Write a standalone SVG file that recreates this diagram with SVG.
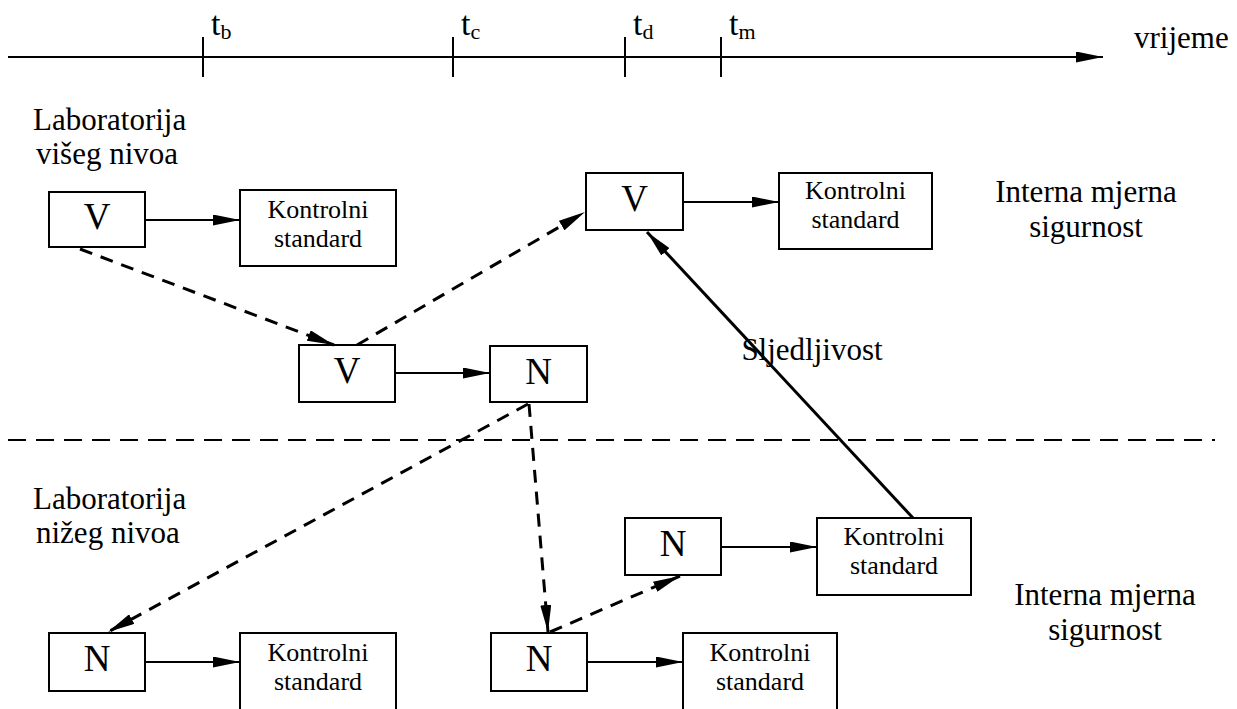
<svg xmlns="http://www.w3.org/2000/svg" width="1237" height="709" viewBox="0 0 1237 709" font-family="'Liberation Serif', 'Times New Roman', serif">
<style>
.box{fill:#fff;stroke:#000;stroke-width:2}
text{font-family:"Liberation Serif","Times New Roman",serif;fill:#000}
.big{font-size:31px}
.tl{font-size:34px}
.ltr{font-size:37px;text-anchor:middle}
.ks{font-size:26px;text-anchor:middle}
.mid{text-anchor:middle}
.c{stroke:#000;stroke-width:2;fill:none}
.d{stroke:#000;stroke-width:3;fill:none;stroke-dasharray:13 9}
</style>
<defs>
<marker id="ah" markerUnits="userSpaceOnUse" markerWidth="27" markerHeight="11" refX="27" refY="5.5" orient="auto">
<path d="M0,0 L27,5.5 L0,11 Z" fill="#000"/>
</marker>
</defs>
<rect width="1237" height="709" fill="#fff"/>
<g id="timeline">
<line x1="8" y1="57" x2="1103" y2="57" class="c" marker-end="url(#ah)"/>
<line x1="203" y1="37" x2="203" y2="77" class="c"/>
<line x1="453" y1="37" x2="453" y2="77" class="c"/>
<line x1="625" y1="37" x2="625" y2="77" class="c"/>
<line x1="721" y1="37" x2="721" y2="77" class="c"/>
<text x="211" y="35" class="tl">t<tspan font-size="22" dy="4">b</tspan></text>
<text x="461" y="35" class="tl">t<tspan font-size="22" dy="4">c</tspan></text>
<text x="633" y="35" class="tl">t<tspan font-size="22" dy="4">d</tspan></text>
<text x="729" y="35" class="tl">t<tspan font-size="22" dy="4">m</tspan></text>
<text x="1134" y="48" class="big">vrijeme</text>
</g>
<g id="labels">
<text x="33" y="130" class="big">Laboratorija</text>
<text x="36" y="164" class="big">višeg nivoa</text>
<text x="33" y="509" class="big">Laboratorija</text>
<text x="36" y="543" class="big">nižeg nivoa</text>
<text x="1086" y="202" class="big mid">Interna mjerna</text>
<text x="1086" y="237" class="big mid">sigurnost</text>
<text x="1105" y="605" class="big mid">Interna mjerna</text>
<text x="1105" y="640" class="big mid">sigurnost</text>
<text x="812" y="360" class="big mid">Sljedljivost</text>
</g>
<g id="separator">
<line x1="8" y1="440" x2="1215" y2="440" stroke="#000" stroke-width="2" stroke-dasharray="18 10"/>
</g>
<g id="node-V1">
<rect x="49" y="192" width="96" height="55" class="box"/>
<text x="97" y="229" class="ltr">V</text>
</g>
<g id="node-K1">
<rect x="240" y="190" width="156" height="76" class="box"/>
<text x="318" y="218" class="ks">Kontrolni</text>
<text x="318" y="247" class="ks">standard</text>
</g>
<g id="node-V2">
<rect x="586" y="173" width="97" height="57" class="box"/>
<text x="634.5" y="211" class="ltr">V</text>
</g>
<g id="node-K2">
<rect x="779" y="173" width="153" height="76" class="box"/>
<text x="855.5" y="199" class="ks">Kontrolni</text>
<text x="855.5" y="228" class="ks">standard</text>
</g>
<g id="node-V3">
<rect x="299" y="345" width="96" height="57" class="box"/>
<text x="347" y="383" class="ltr">V</text>
</g>
<g id="node-N1">
<rect x="490" y="346" width="97" height="56" class="box"/>
<text x="538.5" y="384" class="ltr">N</text>
</g>
<g id="node-N2">
<rect x="625" y="518" width="96" height="57" class="box"/>
<text x="673" y="556" class="ltr">N</text>
</g>
<g id="node-K3">
<rect x="817" y="518" width="154" height="77" class="box"/>
<text x="894" y="545" class="ks">Kontrolni</text>
<text x="894" y="574" class="ks">standard</text>
</g>
<g id="node-N3">
<rect x="49" y="633" width="96" height="58" class="box"/>
<text x="97" y="671" class="ltr">N</text>
</g>
<g id="node-K4">
<rect x="240" y="633" width="156" height="80" class="box"/>
<text x="318" y="661" class="ks">Kontrolni</text>
<text x="318" y="690" class="ks">standard</text>
</g>
<g id="node-N4">
<rect x="491" y="633" width="96" height="58" class="box"/>
<text x="539" y="671" class="ltr">N</text>
</g>
<g id="node-K5">
<rect x="683" y="633" width="154" height="80" class="box"/>
<text x="760" y="661" class="ks">Kontrolni</text>
<text x="760" y="690" class="ks">standard</text>
</g>
<g id="connectors">
<line x1="145" y1="220" x2="240" y2="220" class="c" marker-end="url(#ah)"/>
<line x1="683" y1="202" x2="779" y2="202" class="c" marker-end="url(#ah)"/>
<line x1="395" y1="373" x2="490" y2="373" class="c" marker-end="url(#ah)"/>
<line x1="721" y1="547" x2="817" y2="547" class="c" marker-end="url(#ah)"/>
<line x1="145" y1="662" x2="240" y2="662" class="c" marker-end="url(#ah)"/>
<line x1="587" y1="662" x2="683" y2="662" class="c" marker-end="url(#ah)"/>
<line x1="80" y1="249" x2="334" y2="345" class="d" marker-end="url(#ah)"/>
<line x1="357" y1="345" x2="585" y2="212" class="d" marker-end="url(#ah)"/>
<line x1="913" y1="518" x2="647" y2="232" stroke="#000" stroke-width="3" marker-end="url(#ah)"/>
<line x1="528" y1="404" x2="108" y2="632" class="d" marker-end="url(#ah)"/>
<line x1="529" y1="404" x2="548" y2="632" class="d" marker-end="url(#ah)"/>
<line x1="550" y1="632" x2="680" y2="576" class="d" marker-end="url(#ah)"/>
</g>
</svg>
